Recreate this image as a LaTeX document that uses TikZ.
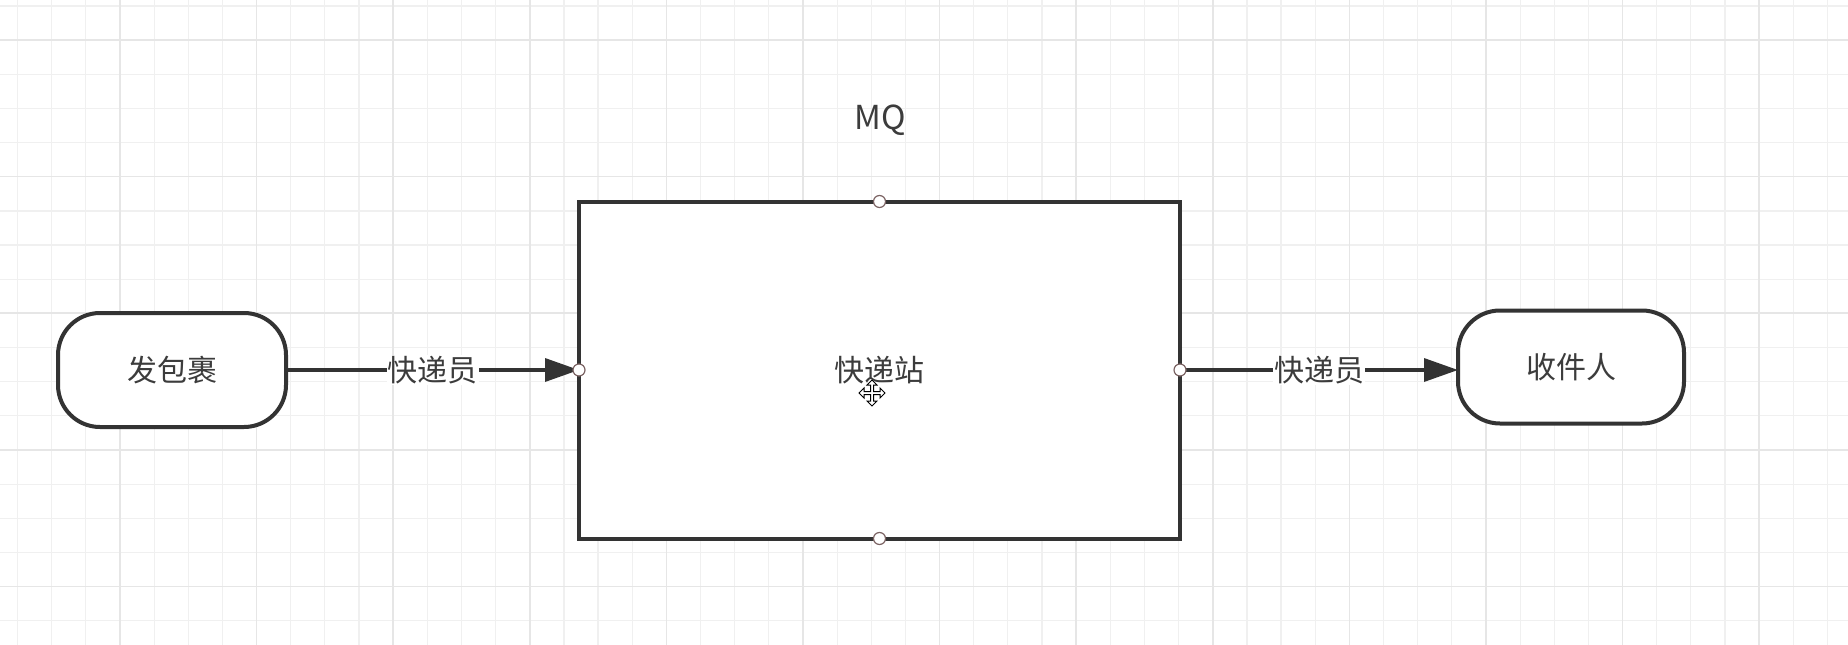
\documentclass[tikz,border=0pt]{standalone}
\usepackage{fontspec}
\newfontfamily\cjk{Noto Sans CJK SC}
\usetikzlibrary{arrows.meta}
\definecolor{ink}{HTML}{333333}
\definecolor{txt}{HTML}{3C3C3C}
\definecolor{gridminor}{HTML}{F0F0F0}
\definecolor{gridmajor}{HTML}{E6E6E6}
\definecolor{handle}{HTML}{7A6262}
\begin{document}
\begin{tikzpicture}[x=1pt,y=-1pt,
  font=\cjk\fontsize{30}{36}\selectfont, text=txt,
  terminal/.style={draw=ink, line width=4pt, fill=white, rounded corners=42pt,
    minimum width=228pt, minimum height=114pt, inner sep=0pt, outer sep=0pt},
  station/.style={draw=ink, line width=4pt, fill=white,
    minimum width=601pt, minimum height=337pt, inner sep=0pt, outer sep=0pt},
  conn/.style={draw=ink, line width=3.5pt, -{Triangle[length=34pt,width=23pt]}},
  lbl/.style={fill=white, inner sep=1pt},
  handlept/.style={circle, draw=handle, fill=white, line width=1.2pt,
    minimum size=12pt, inner sep=0pt},
  minorline/.style={draw=gridminor, line width=1.2pt},
  majorline/.style={draw=gridmajor, line width=1.6pt}]
\useasboundingbox (0,0) rectangle (1848,645);
\fill[white] (0,0) rectangle (1848,645);
% grid
\foreach \i in {0,...,53} \draw[minorline] ({17.5+34.15*\i},0) -- ({17.5+34.15*\i},645);
\foreach \k in {0,...,18} \draw[minorline] (0,{6+34.15*\k}) -- (1848,{6+34.15*\k});
\foreach \i in {0,...,12} \draw[majorline] ({120+136.6*\i},0) -- ({120+136.6*\i},645);
\foreach \k in {0,...,4} \draw[majorline] (0,{40+136.6*\k}) -- (1848,{40+136.6*\k});
% nodes
\node[terminal] (send) at (172,370) {发包裹};
\node[station] (mq) at (879.5,370) {快递站};
\node[terminal, minimum width=226pt, minimum height=113pt] (recv) at (1571,367) {收件人};
\node[font=\cjk\fontsize{33}{40}\selectfont] (mqlabel) at (880,120) {MQ};
% connectors
\draw[conn] (send.east) -- node[lbl] (l1) {快递员} (mq.west);
\draw[conn] (mq.east) -- node[lbl] (l2) {快递员} (mq.east -| recv.west);
% handles
\node[handlept] (hn) at (mq.north) {};
\node[handlept] (hs) at (mq.south) {};
\node[handlept] (hw) at (mq.west) {};
\node[handlept] (he) at (mq.east) {};
% move cursor
\draw[fill=white, draw=black, line width=1pt, shift={(872,393)}]
  (0,-13) -- (5,-8) -- (1.5,-8) -- (1.5,-1.5) -- (8,-1.5) -- (8,-5) -- (13,0)
  -- (8,5) -- (8,1.5) -- (1.5,1.5) -- (1.5,8) -- (5,8) -- (0,13) -- (-5,8)
  -- (-1.5,8) -- (-1.5,1.5) -- (-8,1.5) -- (-8,5) -- (-13,0) -- (-8,-5)
  -- (-8,-1.5) -- (-1.5,-1.5) -- (-1.5,-8) -- (-5,-8) -- cycle;
\end{tikzpicture}
\end{document}
